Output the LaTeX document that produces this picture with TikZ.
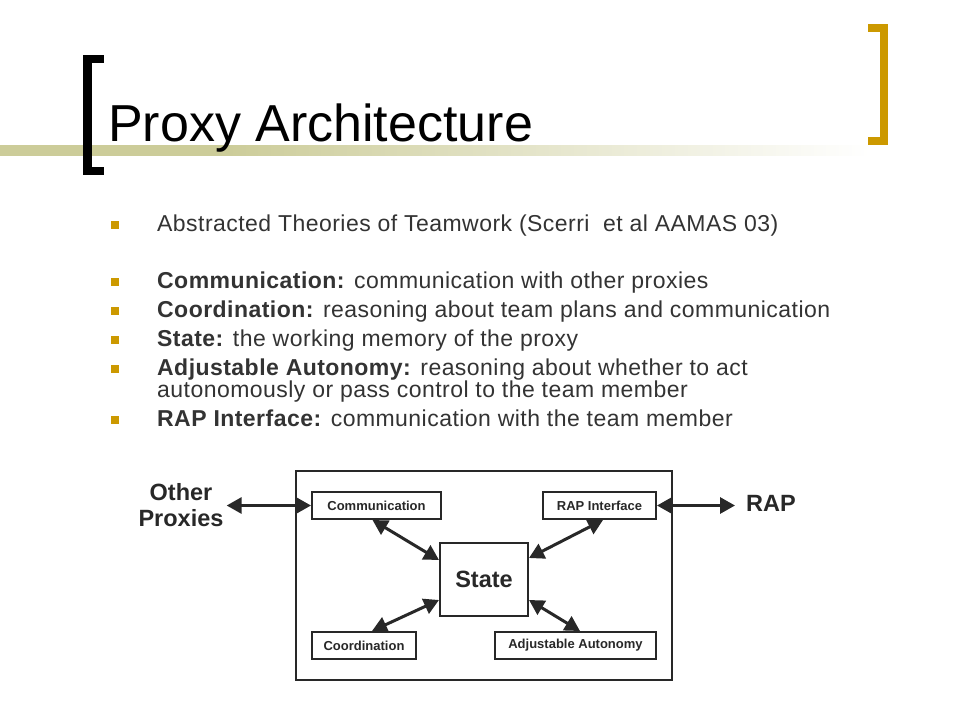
\documentclass[tikz,border=0pt]{standalone}
\usepackage{fontspec}
\setmainfont{Liberation Sans}
\newfontfamily\bodyfont[LetterSpace=2]{Liberation Sans}
\usetikzlibrary{arrows.meta,calc}
\definecolor{gold}{RGB}{204,153,0}
\definecolor{khaki}{RGB}{204,204,153}
\definecolor{ink}{RGB}{40,40,40}
\definecolor{txt}{RGB}{51,51,51}
\pgfdeclarehorizontalshading{barshade}{100bp}{color(0bp)=(khaki); color(38bp)=(khaki); color(75bp)=(white); color(100bp)=(white)}
\begin{document}
\begin{tikzpicture}[x=1pt,y=-1pt,
  bodytext/.style={anchor=base west,inner sep=0pt,text=txt,font=\bodyfont\fontsize{23}{25}\selectfont},
  bul/.style={fill=gold,minimum size=8pt,inner sep=0pt},
  modbox/.style={draw=ink,line width=2pt,fill=white,inner sep=0pt,text=ink,font=\fontsize{13}{15}\selectfont\bfseries},
  dbl/.style={draw=ink,line width=3pt,{Triangle[length=15pt,width=16pt]}-{Triangle[length=15pt,width=16pt]}},
  outlabel/.style={text=ink,font=\fontsize{23.5}{26}\selectfont\bfseries,align=center,inner sep=0pt}
]
\useasboundingbox (0,0) rectangle (960,720);
\fill[white] (0,0) rectangle (960,720);
% gradient bar
\shade[shading=barshade] (0,145) rectangle (870,155);
% brackets
\fill[black] (83,55) rectangle (104,63);
\fill[black] (83,55) rectangle (92,175);
\fill[black] (83,167) rectangle (104,175);
\fill[gold] (868,24) rectangle (888,32);
\fill[gold] (880,24) rectangle (888,145);
\fill[gold] (868,137) rectangle (888,145);
% title
\node[anchor=base west,inner sep=0pt,font=\fontsize{52}{56}\selectfont] (title) at (108,141) {Proxy Architecture};
% bullets
\node[bul] (b1) at (115,225) {};
\node[bodytext] (t1) at (157,231) {Abstracted Theories of Teamwork (Scerri\ \ et al AAMAS 03)};
\node[bul] (b2) at (115,282) {};
\node[bodytext] (t2) at (157,288) {\textbf{Communication:} communication with other proxies};
\node[bul] (b3) at (115,311) {};
\node[bodytext] (t3) at (157,317) {\textbf{Coordination:} reasoning about team plans and communication};
\node[bul] (b4) at (115,340) {};
\node[bodytext] (t4) at (157,346) {\textbf{State:} the working memory of the proxy};
\node[bul] (b5) at (115,369) {};
\node[bodytext] (t5) at (157,375) {\textbf{Adjustable Autonomy:} reasoning about whether to act};
\node[bodytext] (t5b) at (157,397) {autonomously or pass control to the team member};
\node[bul] (b6) at (115,420) {};
\node[bodytext] (t6) at (157,426) {\textbf{RAP Interface:} communication with the team member};
% diagram
\node[draw=ink,line width=2pt,minimum width=376pt,minimum height=209pt,inner sep=0pt] (outer) at (484,575.5) {};
\node[modbox,minimum width=129pt,minimum height=27pt] (comm) at (376.5,505.5) {Communication};
\node[modbox,minimum width=113pt,minimum height=27pt] (rap) at (599.5,505.5) {RAP Interface};
\node[modbox,minimum width=88pt,minimum height=73pt,font=\fontsize{23.5}{26}\selectfont\bfseries] (state) at (484,579.5) {State};
\node[modbox,minimum width=104pt,minimum height=27pt] (coord) at (364,645.5) {Coordination};
\node[modbox,minimum width=161pt,minimum height=27pt] (adj) at (575.5,645.5) {Adjustable Autonomy};
\node[outlabel] (other) at (181,505) {Other\\Proxies};
\node[outlabel,anchor=west] (rapx) at (746,503) {RAP};
\draw[dbl] ([xshift=3pt]other.east |- comm.west) -- (comm.west);
\draw[dbl] (rap.east) -- ([xshift=-11pt]rapx.west |- rap.east);
\draw[dbl] ([xshift=-4pt]comm.south) -- ([yshift=19.5pt]state.west);
\draw[dbl] ([xshift=3.5pt]rap.south) -- ([yshift=21.5pt]state.east);
\draw[dbl] ([xshift=8pt]coord.north) -- ([yshift=-20.5pt]state.west);
\draw[dbl] ([xshift=4.5pt]adj.north) -- ([yshift=-20.5pt]state.east);
\end{tikzpicture}
\end{document}
